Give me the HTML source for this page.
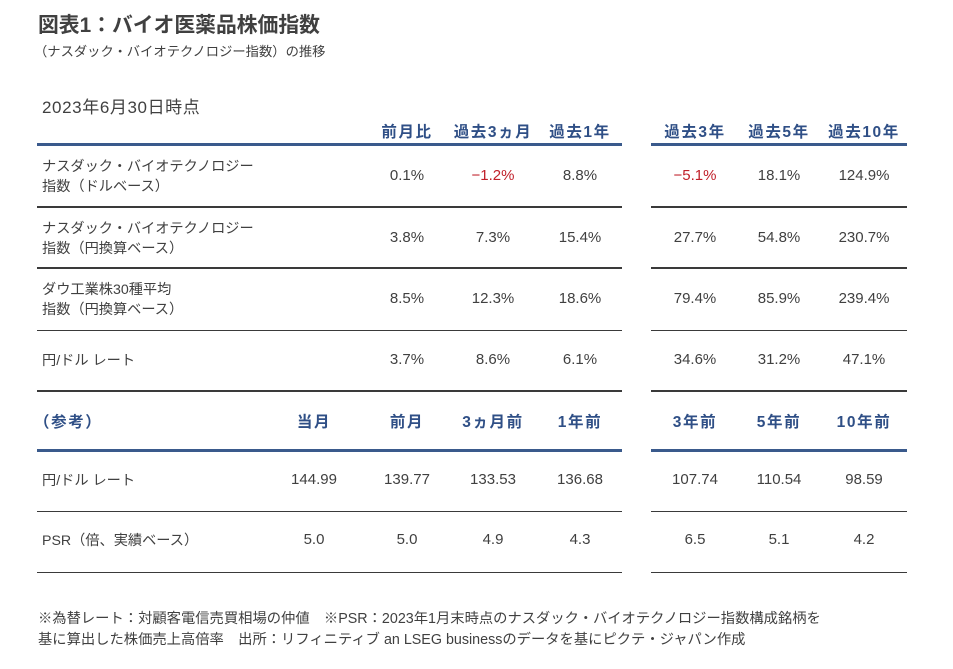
<!DOCTYPE html>
<html><head><meta charset="utf-8">
<style>
body{margin:0;background:#fff;width:953px;height:669px;position:relative;overflow:hidden;font-family:"Liberation Sans","Noto Sans CJK JP",sans-serif;color:#404040}
.a{position:absolute;white-space:nowrap}
.c{position:absolute;transform:translateX(-50%);white-space:nowrap;font-size:15px}
.h{color:#2f4f86;font-weight:bold;font-size:15.5px;letter-spacing:1.6px}
.l{position:absolute;height:2px;background:#3a3a3a}
.t{position:absolute;height:1px;background:#3a3a3a}
.b{position:absolute;height:3px;background:#3a5a8c}
.lab{position:absolute;left:42px;font-size:14.2px;line-height:20px;white-space:nowrap}
.red{color:#c0202a}
</style></head><body>
<div class="a" style="left:38px;top:8px;font-size:20.8px;font-weight:bold;color:#404040">図表1：バイオ医薬品株価指数</div>
<div class="a" style="left:34px;top:41px;font-size:13.3px">（ナスダック・バイオテクノロジー指数）の推移</div>
<div class="a" style="left:42px;top:93px;font-size:17px;letter-spacing:0.6px">2023年6月30日時点</div>

<div id="top"></div>
<div id="bot"></div>

<div class="b" style="left:37px;width:585px;top:143px"></div>
<div class="b" style="left:651px;width:256px;top:143px"></div>
<div class="l" style="left:37px;width:585px;top:206px"></div>
<div class="l" style="left:651px;width:256px;top:206px"></div>
<div class="l" style="left:37px;width:585px;top:267px"></div>
<div class="l" style="left:651px;width:256px;top:267px"></div>
<div class="t" style="left:37px;width:585px;top:330px"></div>
<div class="t" style="left:651px;width:256px;top:330px"></div>
<div class="l" style="left:37px;width:585px;top:390px"></div>
<div class="l" style="left:651px;width:256px;top:390px"></div>
<div class="b" style="left:37px;width:585px;top:449px"></div>
<div class="b" style="left:651px;width:256px;top:449px"></div>
<div class="t" style="left:37px;width:585px;top:511px"></div>
<div class="t" style="left:651px;width:256px;top:511px"></div>
<div class="t" style="left:37px;width:585px;top:572px"></div>
<div class="t" style="left:651px;width:256px;top:572px"></div>

<div class="a" style="left:38px;top:609px;font-size:14.3px;line-height:21px">※為替レート：対顧客電信売買相場の仲値　※PSR：2023年1月末時点のナスダック・バイオテクノロジー指数構成銘柄を<br>基に算出した株価売上高倍率　出所：リフィニティブ an LSEG businessのデータを基にピクテ・ジャパン作成</div>

<script>
const colX=[407,493,580,695,779,864];
const topHeaders=["前月比","過去3ヵ月","過去1年","過去3年","過去5年","過去10年"];
const topLabels=[["ナスダック・バイオテクノロジー","指数（ドルベース）"],["ナスダック・バイオテクノロジー","指数（円換算ベース）"],["ダウ工業株30種平均","指数（円換算ベース）"],["円/ドル レート"]];
const row1=[0.1,-1.2,8.8,-5.1,18.1,124.9];
const row2=[3.8,7.3,15.4,27.7,54.8,230.7];
const row3=[8.5,12.3,18.6,79.4,85.9,239.4];
const row4=[3.7,8.6,6.1,34.6,31.2,47.1];
const topRows=[row1,row2,row3,row4];
const topRowY=[177,239,300,361];
const botHeaders=["当月","前月","3ヵ月前","1年前","3年前","5年前","10年前"];
const botColX=[314,407,493,580,695,779,864];
const botLabels=["円/ドル レート","PSR（倍、実績ベース）"];
const fxRow=["144.99","139.77","133.53","136.68","107.74","110.54","98.59"];
const psrRow=["5.0","5.0","4.9","4.3","6.5","5.1","4.2"];
const botRows=[fxRow,psrRow];
const botRowY=[481,541];
function mk(parent,cls,txt,x,y){const d=document.createElement('div');d.className=cls;d.textContent=txt;d.style.left=x+'px';d.style.top=(y-10)+'px';document.body.appendChild(d);return d;}
topHeaders.forEach((h,i)=>{const d=mk(null,'c h',h,colX[i],130);

});
topLabels.forEach((lab,r)=>{const d=document.createElement('div');d.className='lab';d.innerHTML=lab.join('<br>');d.style.top=(topRowY[r]-(lab.length*10))+'px';document.body.appendChild(d);

});
topRows.forEach((row,r)=>row.forEach((v,i)=>{const s=(v<0?'−'+Math.abs(v).toFixed(1):v.toFixed(1))+'%';const d=mk(null,'c'+(v<0?' red':''),s,colX[i],topRowY[r]);

}));
{const d=mk(null,'a h','（参考）',34,420);

}
botHeaders.forEach((h,i)=>{const d=mk(null,'c h',h,botColX[i],420);

});
botLabels.forEach((lab,r)=>{const d=document.createElement('div');d.className='lab';d.textContent=lab;d.style.top=(botRowY[r]-10)+'px';document.body.appendChild(d);

});
botRows.forEach((row,r)=>row.forEach((v,i)=>{const d=mk(null,'c',v,botColX[i],botRowY[r]);

}));
</script>
</body></html>
